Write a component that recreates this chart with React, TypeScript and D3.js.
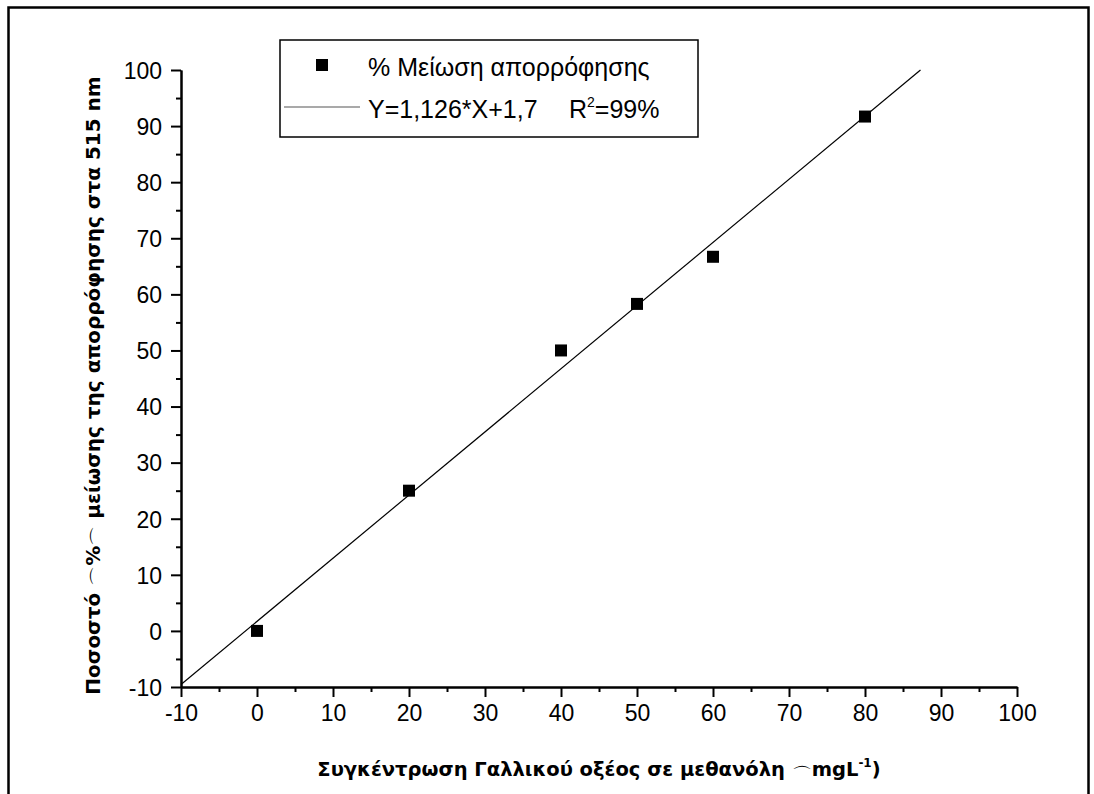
import React, { useEffect, useRef } from 'react'
import * as d3 from 'd3'

// measured points: concentration (mg/L) vs % decrease of absorbance
const concentrations = [0, 20, 40, 50, 60, 80]
const decrease = [0, 25, 50, 58.3, 66.7, 91.7]

// linear fit Y = a*X + b
const fitSlope = 1.126
const fitIntercept = 1.7

const xTicks = [-10, 0, 10, 20, 30, 40, 50, 60, 70, 80, 90, 100]
const yTicks = [-10, 0, 10, 20, 30, 40, 50, 60, 70, 80, 90, 100]
const xMinorTicks = [-5, 5, 15, 25, 35, 45, 55, 65, 75, 85, 95]
const yMinorTicks = [-5, 5, 15, 25, 35, 45, 55, 65, 75, 85, 95]

const legendPoints = '% Μείωση απορρόφησης'
const legendFit = 'Y=1,126*X+1,7'
const xTitle = ['Συγκέντρωση Γαλλικού οξέος σε μεθανόλη ', '⌒', 'mgL']
const yTitle = ['Ποσοστό ', '⌒', '%', '⌒', ' μείωσης της απορρόφησης στα 515 nm']

const W = 1094
const H = 794
const FONT = 'Arial, "Liberation Sans", sans-serif'
const TITLE_FONT = '"DejaVu Sans", Verdana, sans-serif'

export default function App() {
  const svgRef = useRef<SVGSVGElement>(null)

  useEffect(() => {
    if (!svgRef.current) return
    const svg = d3.select(svgRef.current)
    svg.selectAll('*').remove() // clear previous renders

    const left = 181
    const right = 1017
    const top = 70
    const bottom = 687

    const x = d3.scaleLinear().domain([-10, 100]).range([left, right])
    const y = d3.scaleLinear().domain([-10, 100]).range([bottom, top])

    // outer frame
    svg
      .append('rect')
      .attr('x', 8.5)
      .attr('y', 7.5)
      .attr('width', 1080)
      .attr('height', 800)
      .attr('fill', 'none')
      .attr('stroke', '#000')
      .attr('stroke-width', 2.5)

    // minor ticks first, then major ticks with labels
    const xMinor = svg
      .append('g')
      .attr('transform', `translate(0,${bottom})`)
      .call(d3.axisBottom(x).tickValues(xMinorTicks).tickSize(5).tickSizeOuter(0).tickFormat(() => ''))
    const yMinor = svg
      .append('g')
      .attr('transform', `translate(${left},0)`)
      .call(d3.axisLeft(y).tickValues(yMinorTicks).tickSize(5).tickSizeOuter(0).tickFormat(() => ''))

    const fmt = (d: d3.NumberValue) => String(d) // plain hyphen minus like the original
    const xAxis = svg
      .append('g')
      .attr('transform', `translate(0,${bottom})`)
      .call(d3.axisBottom(x).tickValues(xTicks).tickSize(10).tickSizeOuter(0).tickPadding(8).tickFormat(fmt))
    const yAxis = svg
      .append('g')
      .attr('transform', `translate(${left},0)`)
      .call(d3.axisLeft(y).tickValues(yTicks).tickSize(10).tickSizeOuter(0).tickPadding(9).tickFormat(fmt))

    ;[xMinor, yMinor, xAxis, yAxis].forEach((g) => {
      g.selectAll('path, line').attr('stroke', '#000').attr('stroke-width', 2)
      g.selectAll('text')
        .attr('fill', '#000')
        .attr('font-family', FONT)
        .attr('font-size', 23)
    })
    yAxis.selectAll('text').attr('dy', '0.36em')

    // fit line, clipped to the axis range
    const fitStart = -10
    const fitEnd = (100 - fitIntercept) / fitSlope
    const line = d3
      .line<number>()
      .x((d) => x(d))
      .y((d) => y(fitSlope * d + fitIntercept))
    svg
      .append('path')
      .attr('d', line([fitStart, fitEnd]))
      .attr('fill', 'none')
      .attr('stroke', '#000')
      .attr('stroke-width', 1.2)

    // data points
    const sq = 12
    svg
      .append('g')
      .selectAll('rect')
      .data(concentrations)
      .join('rect')
      .attr('x', (d) => x(d) - sq / 2)
      .attr('y', (d, i) => y(decrease[i]) - sq / 2)
      .attr('width', sq)
      .attr('height', sq)
      .attr('fill', '#000')

    // legend
    const legend = svg.append('g').attr('transform', 'translate(280,40)')
    legend
      .append('rect')
      .attr('width', 418)
      .attr('height', 97)
      .attr('fill', '#fff')
      .attr('stroke', '#000')
      .attr('stroke-width', 1.5)
    legend
      .append('rect')
      .attr('x', 36)
      .attr('y', 19)
      .attr('width', sq)
      .attr('height', sq)
      .attr('fill', '#000')
    legend
      .append('text')
      .attr('x', 88)
      .attr('y', 36)
      .attr('font-family', FONT)
      .attr('font-size', 25)
      .text(legendPoints)
    legend
      .append('line')
      .attr('x1', 4)
      .attr('x2', 80)
      .attr('y1', 67)
      .attr('y2', 67)
      .attr('stroke', '#555')
      .attr('stroke-width', 1.2)
    legend
      .append('text')
      .attr('x', 88)
      .attr('y', 78)
      .attr('font-family', FONT)
      .attr('font-size', 25)
      .text(legendFit)
    const r2 = legend
      .append('text')
      .attr('x', 289)
      .attr('y', 78)
      .attr('font-family', FONT)
      .attr('font-size', 25)
    r2.append('tspan').text('R')
    r2.append('tspan').attr('dy', -11).attr('font-size', 14).text('2')
    r2.append('tspan').attr('dy', 11).text('=99%')

    // axis titles
    const xt = svg
      .append('text')
      .attr('x', (left + right) / 2)
      .attr('y', 776)
      .attr('text-anchor', 'middle')
      .attr('font-family', TITLE_FONT)
      .attr('font-weight', 'bold')
      .attr('font-size', 19.5)
    xt.append('tspan').text(xTitle[0])
    xt.append('tspan').attr('dy', 6).attr('font-weight', 'normal').text(xTitle[1])
    xt.append('tspan').attr('dy', -6).text(xTitle[2])
    xt.append('tspan').attr('dy', -9).attr('font-size', 12).text('-1')
    xt.append('tspan').attr('dy', 9).text(')')

    const yt = svg
      .append('text')
      .attr('transform', `translate(100,${(top + bottom) / 2 + 7}) rotate(-90)`)
      .attr('text-anchor', 'middle')
      .attr('font-family', TITLE_FONT)
      .attr('font-weight', 'bold')
      .attr('font-size', 20)
    yt.append('tspan').text(yTitle[0])
    yt.append('tspan').attr('dy', 6).attr('font-weight', 'normal').text(yTitle[1])
    yt.append('tspan').attr('dy', -6).text(yTitle[2])
    yt.append('tspan').attr('dy', 6).attr('font-weight', 'normal').text(yTitle[3])
    yt.append('tspan').attr('dy', -6).text(yTitle[4])
  }, [])

  return (
    <svg
      ref={svgRef}
      width={W}
      height={H}
      style={{ position: 'absolute', left: 0, top: 0, background: '#fff' }}
    />
  )
}
